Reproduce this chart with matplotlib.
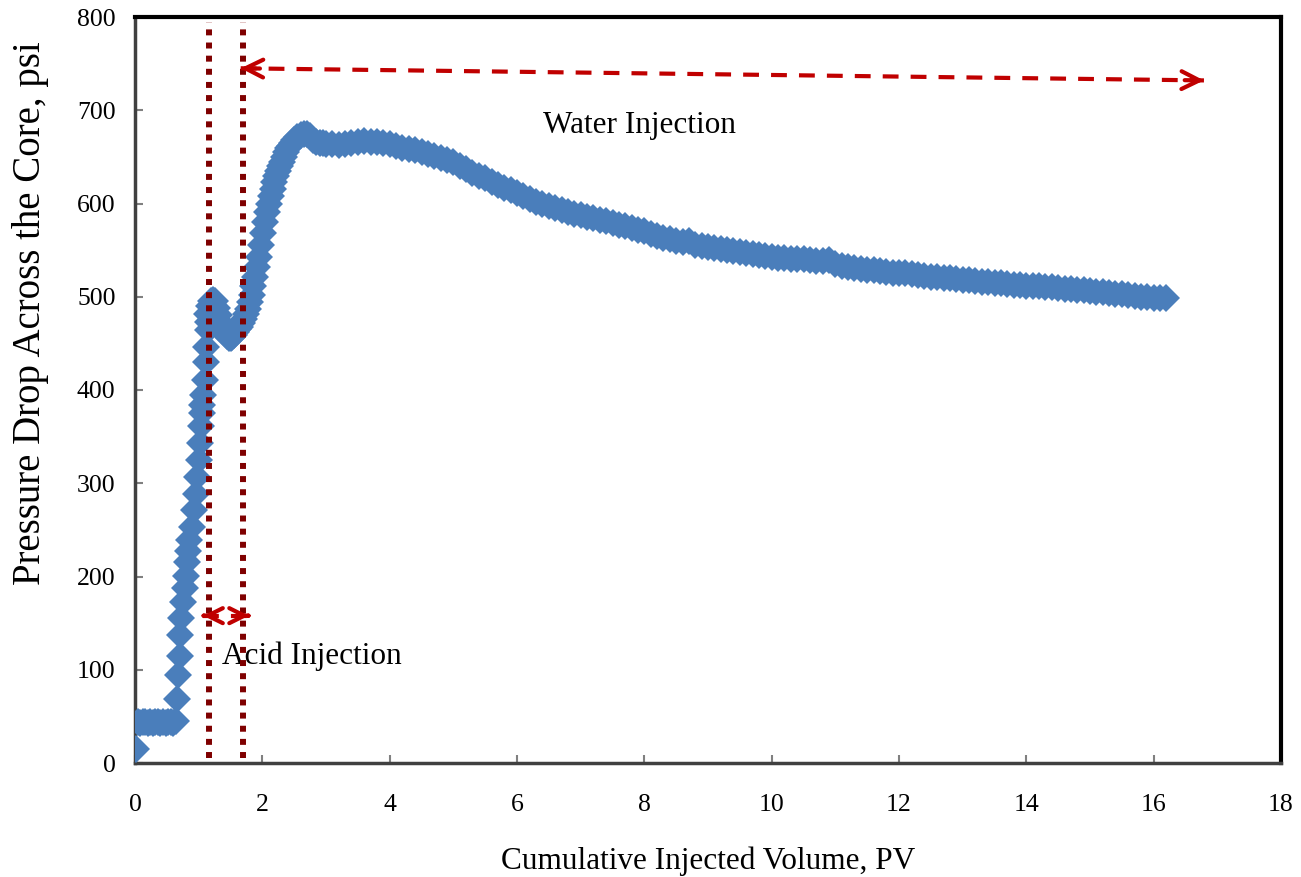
import matplotlib.pyplot as plt

plt.rcParams['font.family'] = ['Liberation Serif', 'DejaVu Serif']

# pressure drop record, psi vs cumulative injected volume, PV
pv_start = [0.02, 0.04, 0.08, 0.12, 0.16, 0.20, 0.24, 0.28, 0.32, 0.36, 0.40,
            0.44, 0.48, 0.52, 0.56, 0.60, 0.64]
dp_start = [15, 44, 43, 44, 44, 43, 44, 43, 44, 44, 43,
            44, 43, 44, 44, 43, 45]

pv_rise = [0.66, 0.68, 0.70, 0.70, 0.73, 0.76, 0.78, 0.80, 0.81, 0.83, 0.85,
           0.89, 0.93, 0.96, 0.98, 1.00, 1.02, 1.04, 1.05, 1.06, 1.07, 1.10,
           1.11, 1.12, 1.14, 1.14, 1.13, 1.16]
dp_rise = [69, 94, 115, 137, 155, 173, 188, 201, 216, 227, 239,
           253, 271, 289, 307, 325, 343, 361, 375, 384, 395, 411,
           430, 446, 464, 473, 482, 490]

pv_dip = [1.20, 1.23, 1.26, 1.29, 1.32, 1.35, 1.38, 1.41, 1.44, 1.47, 1.50,
          1.53, 1.56, 1.59, 1.62, 1.65, 1.68, 1.71, 1.74, 1.77, 1.80, 1.83,
          1.86, 1.89, 1.92, 1.95, 1.98, 2.01, 2.04, 2.07, 2.10, 2.13, 2.16,
          2.19, 2.22, 2.25, 2.28, 2.31, 2.34, 2.37, 2.40, 2.43, 2.46, 2.50,
          2.55, 2.60, 2.65, 2.70, 2.75, 2.80, 2.85, 2.90, 2.95]
dp_dip = [495, 497, 495, 488, 480, 472, 465, 461, 458, 456, 456,
          457, 459, 462, 465, 468, 472, 476, 481, 487, 494, 502,
          511, 521, 532, 543, 556, 568, 580, 591, 600, 608, 616,
          623, 629, 635, 640, 645, 650, 655, 659, 662, 665, 668,
          671, 673, 675, 675, 672, 668, 666, 665, 665]

pv_water = [3.0, 3.1, 3.2, 3.3, 3.4, 3.5, 3.6, 3.7, 3.8, 3.9,
            4.0, 4.1, 4.2, 4.3, 4.4, 4.5, 4.6, 4.7, 4.8, 4.9,
            5.0, 5.1, 5.2, 5.3, 5.4, 5.5, 5.6, 5.7, 5.8, 5.9,
            6.0, 6.1, 6.2, 6.3, 6.4, 6.5, 6.6, 6.7, 6.8, 6.9,
            7.0, 7.1, 7.2, 7.3, 7.4, 7.5, 7.6, 7.7, 7.8, 7.9,
            8.0, 8.1, 8.2, 8.3, 8.4, 8.5, 8.6, 8.7, 8.8, 8.9,
            9.0, 9.1, 9.2, 9.3, 9.4, 9.5, 9.6, 9.7, 9.8, 9.9,
            10.0, 10.1, 10.2, 10.3, 10.4, 10.5, 10.6, 10.7, 10.8, 10.9,
            11.0, 11.1, 11.2, 11.3, 11.4, 11.5, 11.6, 11.7, 11.8, 11.9,
            12.0, 12.1, 12.2, 12.3, 12.4, 12.5, 12.6, 12.7, 12.8, 12.9,
            13.0, 13.1, 13.2, 13.3, 13.4, 13.5, 13.6, 13.7, 13.8, 13.9,
            14.0, 14.1, 14.2, 14.3, 14.4, 14.5, 14.6, 14.7, 14.8, 14.9,
            15.0, 15.1, 15.2, 15.3, 15.4, 15.5, 15.6, 15.7, 15.8, 15.9,
            16.0, 16.1, 16.2]
dp_water = [664, 664, 663, 664, 665, 666, 667, 666, 666, 665,
            664, 662, 660, 658, 657, 655, 653, 651, 649, 647,
            644, 640, 637, 633, 630, 627, 623, 620, 617, 614,
            611, 608, 605, 602, 599, 597, 595, 593, 591, 589,
            588, 586, 584, 582, 581, 579, 577, 576, 574, 572,
            570, 567, 565, 563, 562, 560, 559, 560, 556, 554,
            553, 552, 551, 550, 549, 548, 547, 546, 545, 544,
            543, 542, 542, 541, 540, 540, 539, 538, 538, 539,
            535, 533, 532, 531, 530, 529, 529, 528, 527, 526,
            526, 525, 524, 523, 522, 521, 521, 520, 520, 519,
            518, 518, 517, 516, 516, 515, 515, 514, 513, 513,
            512, 511, 511, 510, 510, 509, 508, 508, 507, 507,
            506, 505, 505, 504, 503, 503, 502, 501, 500, 500,
            499, 499, 499]

pv = pv_start + pv_rise + pv_dip + pv_water
dp = dp_start + dp_rise + dp_dip + dp_water

# stage boundaries and arrows
acid_start, acid_end = 1.16, 1.69
water_arrow_x = [1.66, 16.79]
water_arrow_y = [745, 732]
acid_arrow_x = [1.07, 1.79]
acid_arrow_y = 158

fig = plt.figure(figsize=(13.01, 8.77), dpi=100)
ax = fig.add_axes([135 / 1301, 1 - 763 / 877, 1146 / 1301, 746 / 877])

ax.plot(pv, dp, 'D', color='#4A7EBB', ms=14, mew=0, zorder=3)

for xv in (acid_start, acid_end):
    ax.plot([xv, xv], [5, 795], color='#7F0000', lw=4.3,
            linestyle=(0, (1, 1.2)), solid_capstyle='butt', zorder=4)


def dashed_arrow(xs, ys, head=32):
    ax.plot(xs, ys, color='#C00000', lw=3, linestyle=(0, (3.8, 2.9)),
            dash_capstyle='butt', zorder=5)
    for i, j in ((0, 1), (1, 0)):
        tip = (xs[i], ys[i])
        back = (xs[i] + (xs[j] - xs[i]) * 0.02, ys[i] + (ys[j] - ys[i]) * 0.02)
        ax.annotate('', xy=tip, xytext=back,
                    arrowprops=dict(arrowstyle='->', color='#C00000', lw=3,
                                    mutation_scale=head, shrinkA=0, shrinkB=0),
                    zorder=5)


dashed_arrow(water_arrow_x, water_arrow_y)
dashed_arrow(acid_arrow_x, [acid_arrow_y, acid_arrow_y], head=27)

ax.text(7.93, 684, 'Water Injection', fontsize=22.5, ha='center', va='center')
ax.text(1.37, 115, 'Acid Injection', fontsize=22.5, ha='left', va='center')

ax.set_xlim(0, 18)
ax.set_ylim(0, 800)
ax.set_xticks(range(0, 19, 2))
ax.set_yticks(range(0, 801, 100))
ax.tick_params(direction='in', length=6, width=1.5, color='#808080',
               labelsize=18.5)
ax.tick_params(axis='x', pad=22)
ax.tick_params(axis='y', pad=14)

for side in ('top', 'right'):
    ax.spines[side].set_color('black')
    ax.spines[side].set_linewidth(3)
for side in ('left', 'bottom'):
    ax.spines[side].set_color('#404040')
    ax.spines[side].set_linewidth(2.5)

ax.set_xlabel('Cumulative Injected Volume, PV', fontsize=22.5, labelpad=22)
fig.text(31 / 1301, 1 - 313 / 877, 'Pressure Drop Across the Core, psi',
         fontsize=28, rotation=90, ha='center', va='center')

fig.savefig('out.png', dpi=100)
